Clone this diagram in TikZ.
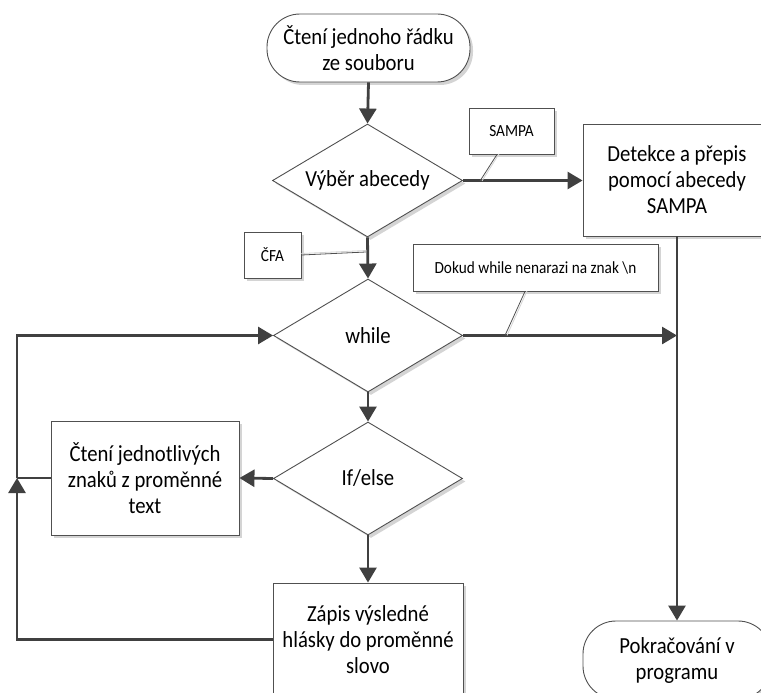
\documentclass[tikz,border=0pt]{standalone}
\usepackage{fontspec}
\setmainfont{Carlito}[FakeStretch=0.9]
\usetikzlibrary{arrows.meta,shapes.geometric,shadows}
\definecolor{ln}{HTML}{404040}
\definecolor{bd}{HTML}{505050}
\definecolor{sh}{HTML}{D4D4D4}
\tikzset{
  shp/.style={draw=bd, line width=0.9pt, fill=white, inner sep=0pt, align=center,
    font=\fontsize{23pt}{26pt}\selectfont,
    drop shadow={shadow xshift=3pt, shadow yshift=-3pt, fill=sh, opacity=1}},
  procbox/.style={shp, rectangle},
  termbox/.style={shp, rectangle, rounded corners=33pt},
  decbox/.style={shp, diamond, aspect=1.68},
  notebox/.style={shp, rectangle, font=\fontsize{17pt}{19pt}\selectfont},
  flow/.style={draw=ln, line width=2.8pt},
  flowarr/.style={flow, -{Triangle[length=15pt,width=17pt]}},
  note/.style={draw=bd, line width=0.8pt},
  noteshadow/.style={draw=sh, line width=0.8pt}
}
\begin{document}
\begin{tikzpicture}[x=1pt,y=-1pt]
\useasboundingbox (0,0) rectangle (761,693);
\clip (0,0) rectangle (761,693);
% nodes
\node[termbox, minimum width=203pt, minimum height=68pt] (start) at (368.5,48) {Čtení jednoho řádku\\ze souboru};
\node[decbox, minimum width=190pt, minimum height=113pt] (d1) at (367.5,180.5) {Výběr abecedy};
\node[procbox, minimum width=188pt, minimum height=112pt] (det) at (677,180) {Detekce a přepis\\pomocí abecedy\\SAMPA};
\node[notebox, minimum width=85pt, minimum height=46pt] (sampa) at (511.5,131) {SAMPA};
\node[notebox, minimum width=57pt, minimum height=46pt] (cfa) at (272.5,255) {ČFA};
\node[notebox, minimum width=245pt, minimum height=47pt] (dokud) at (535.5,267.5) {Dokud while nenarazi na znak \textbackslash n};
\node[decbox, minimum width=189pt, minimum height=113pt] (wh) at (368,335.5) {while};
\node[decbox, minimum width=189pt, minimum height=113pt] (ife) at (368,478.5) {If/else};
\node[procbox, minimum width=188pt, minimum height=114pt] (cteni) at (145,478) {Čtení jednotlivých\\znaků z proměnné\\text};
\node[procbox, minimum width=190pt, minimum height=113pt] (zapis) at (368,639.5) {Zápis výsledné\\hlásky do proměnné\\slovo};
\node[termbox, minimum width=188pt, minimum height=78pt] (pokr) at (677,660) {Pokračování v\\programu};
% coordinates
\coordinate (vline) at (677,335.5);
\coordinate (j) at (17,478);
\coordinate (sa1) at (480,181);
\coordinate (cf1) at (366,252);
\coordinate (dk1) at (505,335.5);
% main flow
\draw[flowarr] (start.south) -- (d1.north);
\draw[flowarr] (d1.east) -- (d1.east -| det.west);
\draw[flowarr] (d1.south) -- (wh.north);
\draw[flowarr] (det.south) -- (pokr.north);
\draw[flowarr] (wh.east) -- (vline);
\draw[flowarr] (wh.south) -- (ife.north);
\draw[flowarr] (ife.west) -- (cteni.east);
\draw[flowarr] (ife.south) -- (zapis.north);
\draw[flowarr] (zapis.west) -| (j);
\draw[flow] (cteni.west) -- (j);
\draw[flowarr] (j) |- (wh.west);
% annotation connectors
\draw[noteshadow] ([xshift=-12.5pt,yshift=0.5pt]sampa.south) -- ([xshift=2pt]sa1);
\draw[note] ([xshift=-14.5pt]sampa.south) -- (sa1);
\draw[noteshadow] ([yshift=1.5pt]cfa.east) -- ([yshift=1.5pt]cf1);
\draw[note] (cfa.east) -- (cf1);
\draw[noteshadow] ([xshift=-8.5pt,yshift=0.5pt]dokud.south) -- ([xshift=2pt]dk1);
\draw[note] ([xshift=-10.5pt]dokud.south) -- (dk1);
\end{tikzpicture}
\end{document}
